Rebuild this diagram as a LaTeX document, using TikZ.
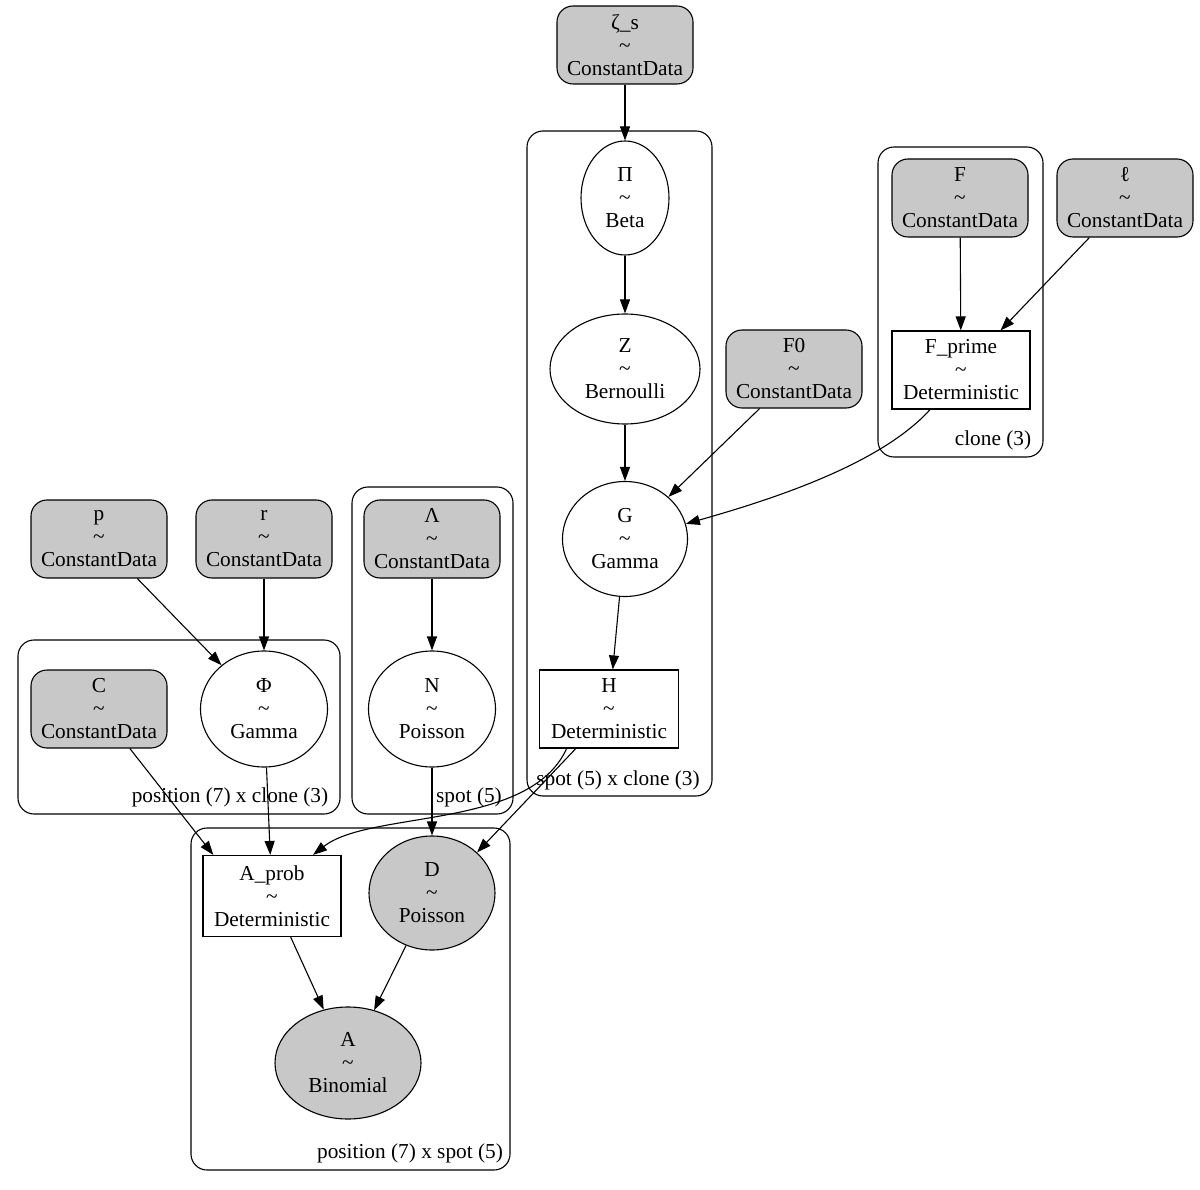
\documentclass[tikz,border=0pt]{standalone}
\usepackage{fontspec}
\setmainfont{Liberation Serif}
\usepackage{xcolor}
\usetikzlibrary{shapes.geometric,arrows.meta}
\definecolor{obsgray}{HTML}{C8C8C8}
\newcommand{\vlab}[2]{#1\\\textasciitilde\\#2}
\tikzset{
  base/.style={draw=black, line width=1.1pt},
  every node/.style={font=\fontsize{21.3}{23}\selectfont},
  data/.style={base, rounded corners=16pt, fill=obsgray, minimum width=136pt, minimum height=78pt, align=center, inner sep=0pt},
  rv/.style={base, ellipse, align=center, inner sep=0pt},
  obs/.style={rv, fill=obsgray},
  det/.style={base, rectangle, minimum width=138pt, minimum height=78pt, align=center, inner sep=0pt},
  plate/.style={base, rounded corners=16pt},
  platelab/.style={inner sep=0pt},
  edge/.style={line width=1.1pt, -{Triangle[length=14pt,width=10pt]}},
}
\begin{document}
\begin{tikzpicture}[x=1pt,y=-1pt]
  \useasboundingbox (0,0) rectangle (1200,1190);
  % plates
  \draw[plate] (878,147) rectangle (1043,457);
  \draw[plate] (527,131) rectangle (712,796);
  \draw[plate] (352,487) rectangle (513,814);
  \draw[plate] (18,640) rectangle (340,814);
  \draw[plate] (191,828) rectangle (510,1170);
  \node[platelab] (clonelab) at (993,440) {clone (3)};
  \node[platelab] (spotclonelab) at (618,780) {spot (5) x clone (3)};
  \node[platelab] (spotlab) at (469,797) {spot (5)};
  \node[platelab] (posclonelab) at (230,797) {position (7) x clone (3)};
  \node[platelab] (posspotlab) at (410,1153) {position (7) x spot (5)};
  % variables
  \node[data] (zeta) at (625,45) {\vlab{ζ\_s}{ConstantData}};
  \node[rv, minimum width=88pt, minimum height=114pt] (Pi) at (625,198) {\vlab{Π}{Beta}};
  \node[rv, minimum width=150pt, minimum height=110pt] (Z) at (625,369) {\vlab{Z}{Bernoulli}};
  \node[data] (F0) at (794,369) {\vlab{F0}{ConstantData}};
  \node[data] (F) at (960,198) {\vlab{F}{ConstantData}};
  \node[data] (ell) at (1125,198) {\vlab{ℓ}{ConstantData}};
  \node[det] (Fp) at (961,370) {\vlab{F\_prime}{Deterministic}};
  \node[rv, minimum width=125pt, minimum height=115pt] (G) at (625,539) {\vlab{G}{Gamma}};
  \node[det, minimum width=139pt] (H) at (609,709) {\vlab{H}{Deterministic}};
  \node[data] (p) at (99,539) {\vlab{p}{ConstantData}};
  \node[data] (r) at (264,539) {\vlab{r}{ConstantData}};
  \node[data] (Lam) at (432,539) {\vlab{Λ}{ConstantData}};
  \node[data] (C) at (99,709) {\vlab{C}{ConstantData}};
  \node[rv, minimum width=127pt, minimum height=116pt] (Phi) at (264,709) {\vlab{Φ}{Gamma}};
  \node[rv, minimum width=127pt, minimum height=116pt] (N) at (432,709) {\vlab{N}{Poisson}};
  \node[obs, minimum width=126pt, minimum height=114pt] (D) at (432,893) {\vlab{D}{Poisson}};
  \node[det, minimum height=81pt] (Aprob) at (272,896) {\vlab{A\_prob}{Deterministic}};
  \node[obs, minimum width=146pt, minimum height=112pt] (A) at (348,1063) {\vlab{A}{Binomial}};
  % edges
  \draw[edge] (zeta) -- (Pi);
  \draw[edge] (Pi) -- (Z);
  \draw[edge] (Z) -- (G);
  \draw[edge] (F0.-131) -- (G);
  \draw[edge] (F) -- (Fp);
  \draw[edge] (ell.-132) -- (Fp.45);
  \draw[edge] (Fp.-128) .. controls (880,465) and (770,500) .. (G.14);
  \draw[edge] (G) -- (H);
  \draw[edge] (p) -- (Phi);
  \draw[edge] (r) -- (Phi);
  \draw[edge] (Lam) -- (N);
  \draw[edge] (C.-52) -- (Aprob.145);
  \draw[edge] (Phi) -- (Aprob);
  \draw[edge] (N) -- (D);
  \draw[edge] (H.-137) .. controls (530,830) and (370,810) .. (Aprob.45);
  \draw[edge] (H.-130) -- (D.42);
  \draw[edge] (Aprob) -- (A);
  \draw[edge] (D) -- (A);
\end{tikzpicture}
\end{document}
